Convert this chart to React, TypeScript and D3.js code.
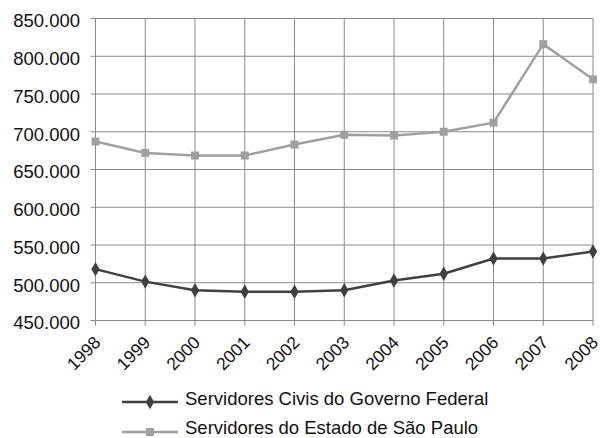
import React from "react";
import * as d3 from "d3";

const years = ["1998","1999","2000","2001","2002","2003","2004","2005","2006","2007","2008"];
const federal = [518000, 501500, 490000, 488000, 488000, 490000, 503000, 512000, 532000, 532000, 541500];
const saoPaulo = [687000, 672000, 668500, 668500, 683000, 696000, 695000, 700000, 712000, 816000, 769500];
const yTicks = [450000, 500000, 550000, 600000, 650000, 700000, 750000, 800000, 850000];
const seriesNames = ["Servidores Civis do Governo Federal", "Servidores do Estado de São Paulo"];

const W = 600, H = 438;
const M = { left: 95.5, right: 593, top: 18.5, bottom: 320.5 };
const FONT = "Liberation Sans, Arial, sans-serif";
const FS = 18.5;
const FSX = 17.5;

export default function App() {
  const x = d3.scalePoint<string>().domain(years).range([M.left, M.right]);
  const y = d3.scaleLinear().domain([450000, 850000]).range([M.bottom, M.top]);
  const label = (v: number) => `${v / 1000}.000`;
  const line = d3.line<number>().x((_, i) => x(years[i])!).y(d => y(d));
  const dark = "#404040", light = "#a0a0a0", grid = "#8a8a8a";
  const diamond = d3.symbol().type(d3.symbolDiamond).size(60)();
  return (
    <svg width={W} height={H} style={{ position: "absolute", left: 0, top: 0 }} fontFamily={FONT}>
      <rect width={W} height={H} fill="#fff" />
      {yTicks.map(t => (
        <g key={t}>
          <line x1={M.left - 5} x2={M.right} y1={y(t)} y2={y(t)} stroke={grid} strokeWidth={1} />
          <text x={80} y={y(t) + 2.5} dy="0.35em" textAnchor="end" fontSize={FS} fill="#111">{label(t)}</text>
        </g>
      ))}
      {years.map(yr => (
        <g key={yr}>
          <line x1={x(yr)} x2={x(yr)} y1={M.top} y2={M.bottom + 5} stroke={grid} strokeWidth={1} />
          <text transform={`translate(${x(yr)! - 2.5},${M.bottom + 14.5}) rotate(-45)`} textAnchor="end" dy="0.7em" fontSize={FSX} fill="#111">{yr}</text>
        </g>
      ))}
      <path d={line(saoPaulo)!} fill="none" stroke={light} strokeWidth={2.5} />
      {saoPaulo.map((v, i) => (
        <rect key={i} x={x(years[i])! - 4} y={y(v) - 4} width={8} height={8} fill={light} />
      ))}
      <path d={line(federal)!} fill="none" stroke={dark} strokeWidth={2.5} />
      {federal.map((v, i) => (
        <path key={i} d={diamond!} transform={`translate(${x(years[i])},${y(v)})`} fill={dark} />
      ))}
      <g>
        <line x1={122} x2={178} y1={402} y2={402} stroke={dark} strokeWidth={2.5} />
        <path d={diamond!} transform="translate(150,402)" fill={dark} />
        <text x={185} y={399} dy="0.35em" fontSize={FS} fill="#111">{seriesNames[0]}</text>
        <line x1={122} x2={178} y1={432} y2={432} stroke={light} strokeWidth={2.5} />
        <rect x={146} y={428} width={8} height={8} fill={light} />
        <text x={185} y={428} dy="0.35em" fontSize={FS} fill="#111">{seriesNames[1]}</text>
      </g>
    </svg>
  );
}
